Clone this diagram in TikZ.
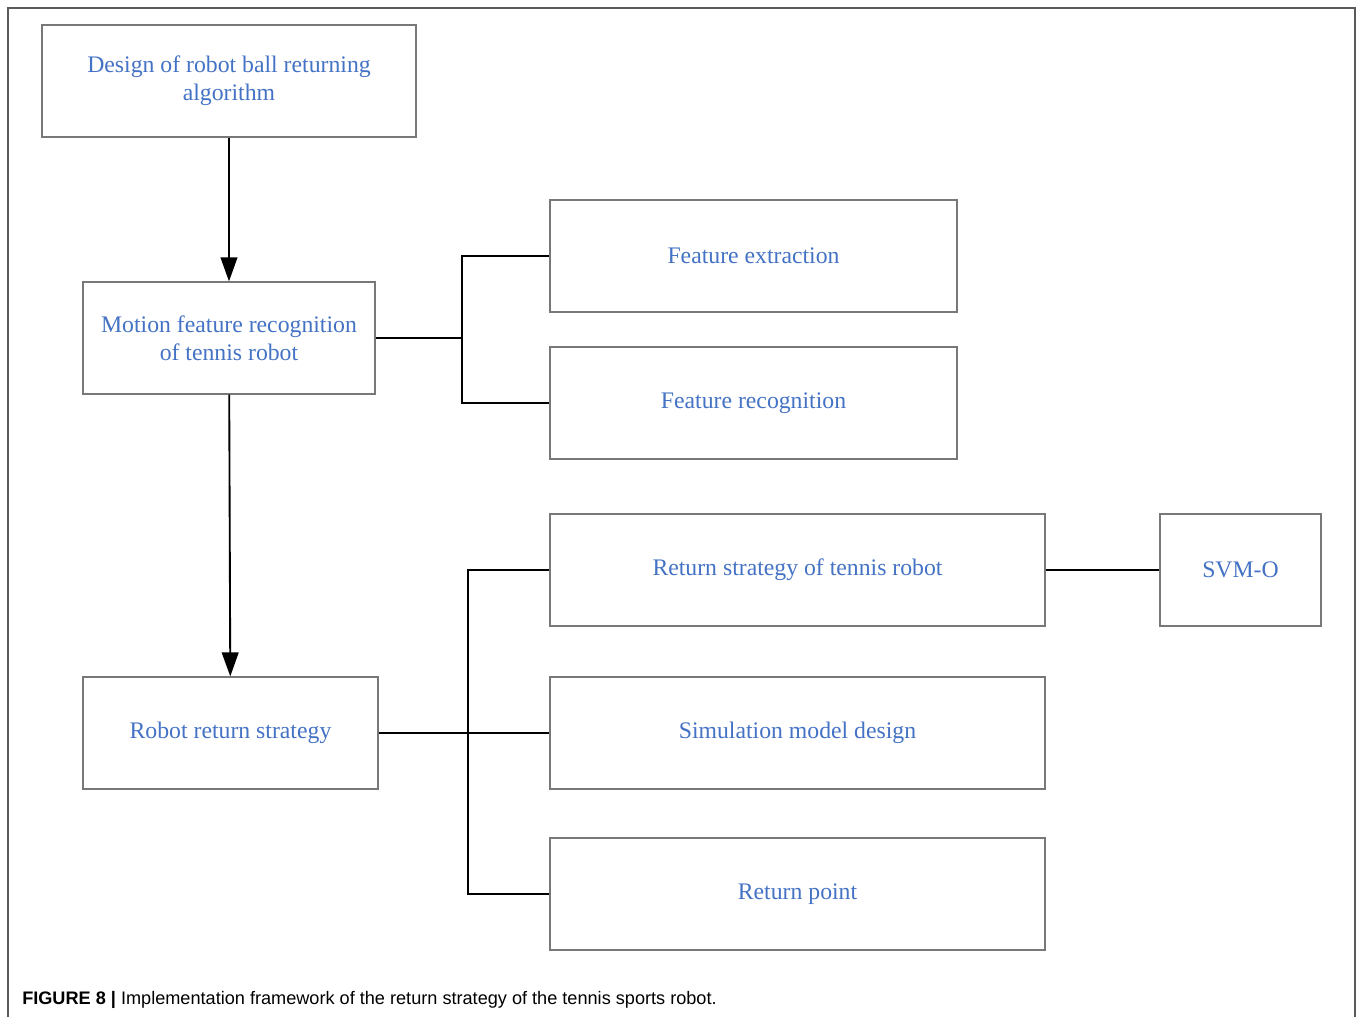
\documentclass[tikz,border=0pt]{standalone}
\usepackage{fontspec}
\setmainfont{Liberation Serif}
\newfontfamily\capfont{Liberation Sans}
\usetikzlibrary{arrows.meta}
\definecolor{boxtext}{RGB}{68,114,196}
\definecolor{boxline}{RGB}{120,120,120}
\definecolor{frameline}{RGB}{90,90,90}

\begin{document}
\begin{tikzpicture}[x=0.75pt,y=-0.75pt,
    block/.style={draw=boxline,line width=0.9pt,text=boxtext,
        font=\fontsize{17.8}{21}\selectfont,align=center,inner sep=0pt,
        minimum height=84pt},
    link/.style={line width=1.4pt},
    flow/.style={link,-{Triangle[length=18pt,width=12.5pt]}}]

\useasboundingbox (0,0) rectangle (1358,1017);

% Draw the frame
\draw[frameline,line width=1.5pt] (8,1017) -- (8,8) -- (1355,8) -- (1355,1017);

% Draw the left column
\node[block,minimum width=280.5pt] (design) at (229,81) {Design of robot ball returning\\algorithm};
\node[block,minimum width=219pt] (motion) at (229,338) {Motion feature recognition\\of tennis robot};
\node[block,minimum width=221.25pt] (strategy) at (230.5,733) {Robot return strategy};

% Draw the right column
\node[block,minimum width=305.25pt] (extract) at (753.5,256) {Feature extraction};
\node[block,minimum width=305.25pt] (recog) at (753.5,403) {Feature recognition};
\node[block,minimum width=371.25pt] (retrobot) at (797.5,570) {Return strategy of tennis robot};
\node[block,minimum width=371.25pt] (simul) at (797.5,733) {Simulation model design};
\node[block,minimum width=371.25pt] (point) at (797.5,894) {Return point};
\node[block,minimum width=120.75pt] (svm) at (1240.5,570) {SVM-O};

% Draw the connectors
\draw[flow] (design) -- (motion);
\draw[flow] (motion) -- (strategy);

\coordinate (j1) at (462,338);
\draw[link] (motion.east) -- (j1);
\draw[link] (extract.west) -| (j1) |- (recog.west);

\coordinate (j2) at (468,733);
\draw[link] (strategy.east) -- (simul.west);
\draw[link] (retrobot.west) -| (j2) |- (point.west);
\draw[link] (retrobot) -- (svm);

% Draw the caption
\node[anchor=base west,inner sep=0pt,font=\capfont\fontsize{13.6}{16}\selectfont] (caption) at (22,1004)
    {\textbf{FIGURE 8 |} Implementation framework of the return strategy of the tennis sports robot.};

\end{tikzpicture}
\end{document}
